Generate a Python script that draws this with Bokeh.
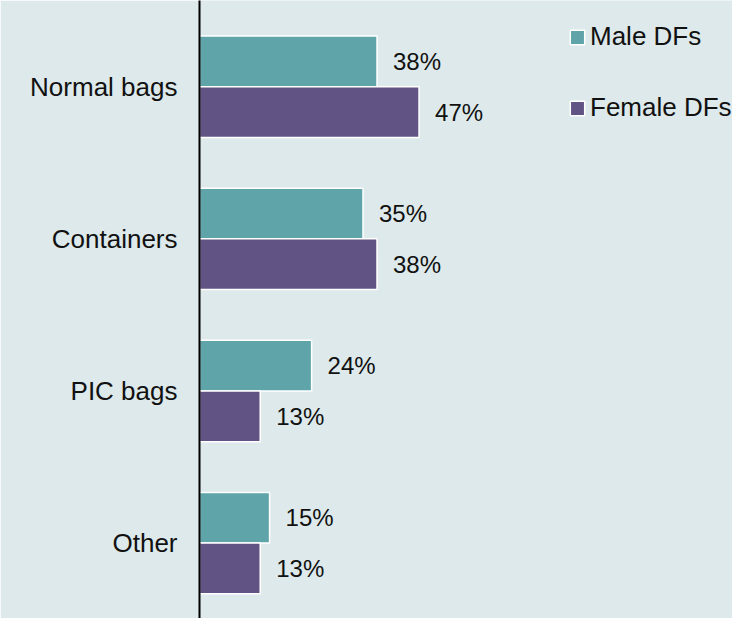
from bokeh.plotting import figure
from bokeh.models import Range1d, FixedTicker, Legend, LegendItem, ColumnDataSource
from bokeh.embed import file_html
from bokeh.resources import INLINE
from bokeh.core.properties import value

categories = ["Normal bags", "Containers", "PIC bags", "Other"]
male = [38, 35, 24, 15]
female = [47, 38, 13, 13]
series_names = ["Male DFs", "Female DFs"]

BG = "#dde9ea"
TEAL = "#5ea4a8"
PURPLE = "#625385"

n = len(categories)
ypos = [n - 1 - i for i in range(n)]
off = 1 / 6.0

src = ColumnDataSource(dict(
    y_m=[y + off for y in ypos],
    y_f=[y - off for y in ypos],
    male=male,
    female=female,
    male_lbl=[f"{v}%" for v in male],
    female_lbl=[f"{v}%" for v in female],
))

p = figure(width=732, height=618, output_backend="svg", toolbar_location=None,
           x_range=Range1d(0, 114.1), y_range=Range1d(-0.496, 3.567),
           x_axis_location=None, min_border_left=199, min_border_right=0,
           min_border_top=0, min_border_bottom=0)
p.background_fill_color = BG
p.border_fill_color = BG
p.outline_line_color = None
p.grid.visible = False

rm = p.hbar(y="y_m", right="male", left=0, height=0.333, source=src,
            fill_color=TEAL, line_color="white", line_width=1.5)
rf = p.hbar(y="y_f", right="female", left=0, height=0.333, source=src,
            fill_color=PURPLE, line_color="white", line_width=1.5)

for col, ycol in (("male", "y_m"), ("female", "y_f")):
    p.text(x=col, y=ycol, text=col + "_lbl", source=src, x_offset=16,
           text_align="left", text_baseline="middle",
           text_font=value("Liberation Sans"), text_font_size="24px",
           text_color="#111111")

ax = p.yaxis[0]
ax.ticker = FixedTicker(ticks=ypos)
ax.major_label_overrides = {y: c for y, c in zip(ypos, categories)}
ax.major_tick_line_color = None
ax.minor_tick_line_color = None
ax.major_tick_out = 0
ax.major_tick_in = 0
ax.minor_tick_out = 0
ax.axis_line_color = "black"
ax.axis_line_width = 2
ax.major_label_text_font = "Liberation Sans"
ax.major_label_text_font_size = "26px"
ax.major_label_text_color = "#111111"
ax.major_label_standoff = 22

legend = Legend(items=[LegendItem(label=series_names[0], renderers=[rm]),
                       LegendItem(label=series_names[1], renderers=[rf])],
                location=(369, 495), orientation="vertical",
                glyph_width=18, glyph_height=18, label_standoff=4,
                spacing=40, padding=0, margin=0,
                background_fill_alpha=0, border_line_color=None,
                label_text_font="Liberation Sans", label_text_font_size="26px",
                label_text_color="#111111")
p.add_layout(legend)

open("out.html", "w").write(file_html(p, INLINE))
